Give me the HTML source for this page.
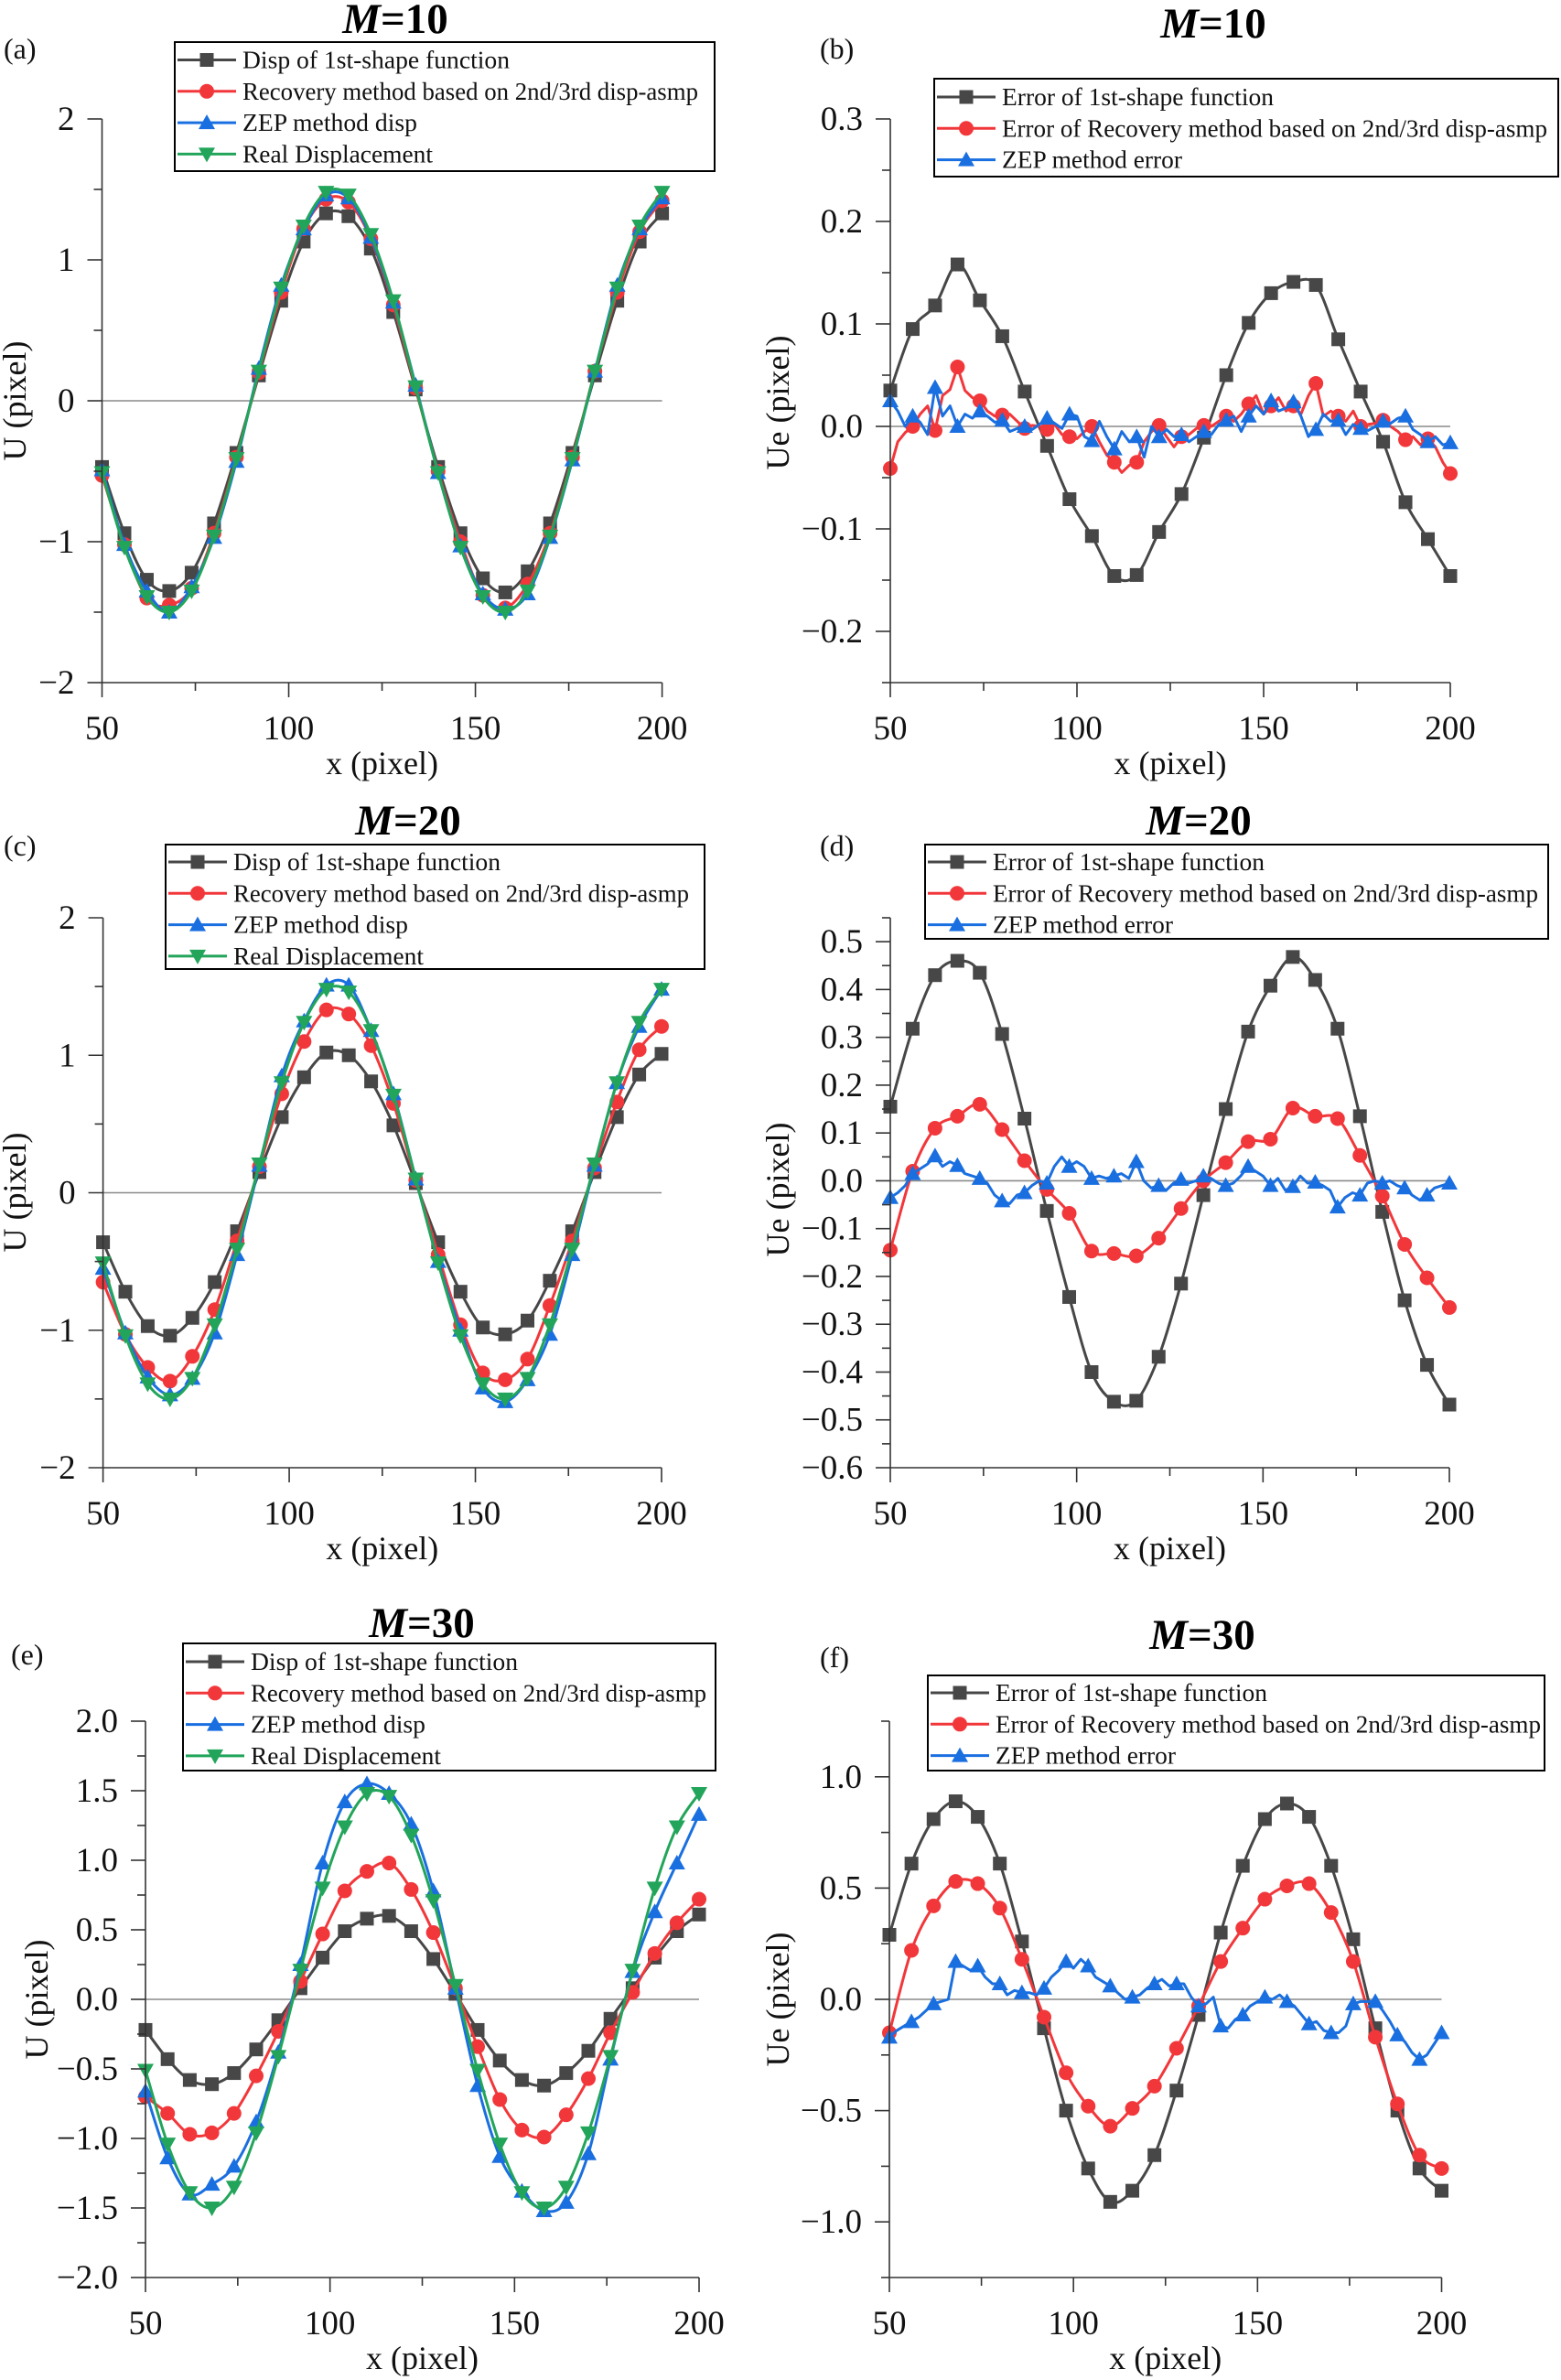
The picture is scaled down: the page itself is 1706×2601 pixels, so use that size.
<!DOCTYPE html>
<html><head><meta charset="utf-8">
<style>
html,body{margin:0;padding:0;background:#fff;}
svg{display:block;font-family:"Liberation Serif",serif;}
text{font-family:"Liberation Serif",serif;}
</style></head>
<body>
<svg id="fig" width="1706" height="2601" viewBox="0 0 1706 2601" xmlns="http://www.w3.org/2000/svg"></svg>
<script>
// ---------- DATA ----------
const X26 = [50,56,62,68,74,80,86,92,98,104,110,116,122,128,134,140,146,152,158,164,170,176,182,188,194,200];
const X76 = [50,52,54,56,58,60,62,64,66,68,70,72,74,76,78,80,82,84,86,88,90,92,94,96,98,100,102,104,106,108,110,112,114,116,118,120,122,124,126,128,130,132,134,136,138,140,142,144,146,148,150,152,154,156,158,160,162,164,166,168,170,172,174,176,178,180,182,184,186,188,190,192,194,196,198,200];

// (a) M=10
const aFirst = [-0.47,-0.94,-1.27,-1.35,-1.22,-0.87,-0.37,0.18,0.71,1.13,1.33,1.31,1.08,0.63,0.08,-0.47,-0.94,-1.26,-1.36,-1.21,-0.87,-0.37,0.18,0.71,1.13,1.33];
const aRecov = [-0.53,-1.02,-1.40,-1.45,-1.33,-0.94,-0.40,0.20,0.77,1.22,1.43,1.41,1.15,0.68,0.09,-0.50,-1.00,-1.38,-1.47,-1.30,-0.94,-0.40,0.21,0.77,1.20,1.42];
const aZep = [-0.49,-1.02,-1.35,-1.50,-1.32,-0.97,-0.43,0.23,0.82,1.22,1.46,1.44,1.16,0.70,0.11,-0.51,-1.03,-1.37,-1.48,-1.37,-0.97,-0.42,0.21,0.82,1.22,1.44];
const realDisp = [-0.51,-1.04,-1.39,-1.50,-1.35,-0.96,-0.41,0.21,0.80,1.24,1.48,1.46,1.18,0.71,0.10,-0.51,-1.04,-1.39,-1.50,-1.35,-0.96,-0.41,0.21,0.80,1.24,1.48];
// (c) M=20
const cFirst = [-0.36,-0.72,-0.97,-1.04,-0.91,-0.65,-0.28,0.15,0.55,0.84,1.02,1.00,0.81,0.49,0.07,-0.36,-0.72,-0.98,-1.03,-0.93,-0.64,-0.28,0.15,0.55,0.86,1.01];
const cRecov = [-0.65,-1.03,-1.27,-1.37,-1.19,-0.85,-0.35,0.19,0.72,1.10,1.33,1.30,1.07,0.65,0.09,-0.45,-0.96,-1.31,-1.36,-1.21,-0.82,-0.35,0.18,0.66,1.04,1.21];
const cZep = [-0.55,-1.02,-1.34,-1.47,-1.35,-1.02,-0.45,0.20,0.85,1.25,1.51,1.51,1.18,0.72,0.10,-0.50,-1.00,-1.42,-1.52,-1.36,-1.03,-0.45,0.20,0.80,1.21,1.48];
// (e) M=30
const eFirst = [-0.22,-0.43,-0.58,-0.61,-0.53,-0.36,-0.15,0.08,0.30,0.49,0.58,0.60,0.49,0.29,0.04,-0.22,-0.44,-0.58,-0.62,-0.53,-0.37,-0.14,0.08,0.30,0.49,0.61];
const eRecov = [-0.70,-0.82,-0.97,-0.96,-0.82,-0.55,-0.23,0.13,0.47,0.78,0.92,0.98,0.79,0.48,0.08,-0.34,-0.72,-0.94,-0.99,-0.83,-0.57,-0.24,0.05,0.33,0.55,0.72];
const eZep = [-0.66,-1.14,-1.40,-1.33,-1.20,-0.88,-0.38,0.25,0.98,1.42,1.55,1.48,1.26,0.78,0.08,-0.62,-1.13,-1.38,-1.52,-1.46,-1.11,-0.43,0.20,0.63,0.98,1.33];

// (b) M=10 errors
const bFirst = [0.035,0.095,0.118,0.158,0.123,0.088,0.034,-0.019,-0.071,-0.107,-0.146,-0.145,-0.103,-0.066,-0.011,0.050,0.101,0.130,0.141,0.138,0.085,0.034,-0.015,-0.074,-0.110,-0.146];
const bRecov = [-0.041,-0.015,-0.006,0.000,0.012,0.020,-0.004,0.030,0.036,0.058,0.035,0.028,0.025,0.015,0.010,0.011,0.012,0.005,-0.002,0.001,0.000,-0.003,0.002,-0.008,-0.010,-0.012,-0.005,0.000,-0.015,-0.028,-0.035,-0.045,-0.038,-0.035,-0.015,-0.005,0.001,-0.010,-0.020,-0.010,-0.008,-0.002,0.001,0.000,0.005,0.010,0.005,0.012,0.022,0.030,0.012,0.020,0.028,0.015,0.020,0.012,0.030,0.042,0.010,0.015,0.010,0.005,0.015,0.000,0.002,0.003,0.006,0.000,-0.005,-0.013,-0.010,-0.018,-0.012,-0.020,-0.035,-0.046];
const bZep = [0.025,0.015,0.000,0.010,0.004,-0.008,0.038,0.010,0.020,0.000,0.012,0.008,0.015,0.010,0.004,0.006,-0.005,-0.002,0.000,-0.003,0.002,0.008,0.003,-0.002,0.012,0.010,-0.010,-0.014,0.005,-0.010,-0.022,-0.005,-0.015,-0.010,-0.030,0.000,-0.010,-0.003,-0.010,-0.008,-0.015,-0.010,-0.005,-0.008,0.002,0.006,0.010,-0.005,0.010,0.020,0.012,0.025,0.015,0.018,0.024,0.010,-0.010,-0.003,0.012,0.005,0.006,-0.008,0.002,-0.002,-0.004,0.000,0.005,0.003,0.008,0.010,-0.003,-0.008,-0.015,-0.010,-0.018,-0.016];
// (d) M=20 errors
const dFirst = [0.155,0.318,0.430,0.460,0.435,0.307,0.130,-0.063,-0.243,-0.400,-0.462,-0.460,-0.368,-0.215,-0.030,0.150,0.312,0.408,0.468,0.420,0.318,0.135,-0.065,-0.250,-0.385,-0.468];
const dRecov = [-0.145,0.020,0.110,0.135,0.160,0.107,0.042,-0.018,-0.068,-0.147,-0.152,-0.157,-0.120,-0.058,0.000,0.038,0.082,0.087,0.152,0.135,0.130,0.053,-0.032,-0.133,-0.203,-0.265];
const dZep = [-0.035,-0.025,-0.010,0.015,0.025,0.035,0.052,0.030,0.040,0.032,0.015,0.010,0.005,-0.005,-0.030,-0.042,-0.048,-0.030,-0.025,-0.010,0.000,-0.005,0.030,0.050,0.030,0.040,0.030,0.005,0.010,0.005,0.010,0.015,0.005,0.040,0.000,-0.015,-0.010,-0.020,-0.005,0.003,-0.005,0.000,0.010,0.005,-0.005,-0.010,-0.005,0.010,0.030,0.020,0.010,-0.010,0.005,-0.020,-0.012,0.010,-0.005,-0.003,-0.010,-0.020,-0.055,-0.035,-0.025,-0.030,-0.005,0.000,-0.005,0.000,-0.010,-0.015,-0.030,-0.040,-0.030,-0.015,-0.010,-0.005];
// (f) M=30 errors
const fFirst = [0.29,0.61,0.81,0.89,0.82,0.61,0.26,-0.13,-0.50,-0.76,-0.91,-0.86,-0.70,-0.41,-0.07,0.30,0.60,0.81,0.88,0.82,0.60,0.27,-0.13,-0.50,-0.76,-0.86];
const fRecov = [-0.15,0.22,0.42,0.53,0.52,0.41,0.18,-0.08,-0.33,-0.48,-0.57,-0.49,-0.39,-0.22,-0.03,0.17,0.32,0.45,0.51,0.52,0.39,0.17,-0.17,-0.47,-0.70,-0.76];
const fZep = [-0.17,-0.14,-0.12,-0.10,-0.08,-0.05,-0.02,-0.01,0.00,0.17,0.15,0.13,0.15,0.10,0.07,0.07,0.02,0.04,0.03,0.03,0.02,0.05,0.10,0.13,0.17,0.14,0.18,0.15,0.10,0.08,0.06,0.03,0.00,0.01,0.02,0.05,0.07,0.09,0.06,0.07,0.07,0.01,-0.03,-0.02,0.01,-0.12,-0.13,-0.09,-0.07,-0.03,-0.01,0.01,0.00,0.02,-0.01,-0.03,-0.07,-0.11,-0.10,-0.14,-0.15,-0.15,-0.12,-0.02,-0.01,-0.01,-0.01,-0.05,-0.10,-0.16,-0.19,-0.24,-0.27,-0.25,-0.20,-0.15];

const dispLegend = ["Disp of 1st-shape function","Recovery method based on 2nd/3rd disp-asmp","ZEP method disp","Real Displacement"];
const errLegend = ["Error of 1st-shape function","Error of Recovery method based on 2nd/3rd disp-asmp","ZEP method error"];
const xTicks = [50,100,150,200];
const xMinor = [75,125,175];

// ---------- RENDER ----------
const NS="http://www.w3.org/2000/svg";
const svg=document.getElementById('fig');
const FF='"Liberation Serif", serif';
const C={k:"#474747",r:"#f2373b",b:"#1a6fe0",g:"#22a55a"};
function mk(tag,attrs,parent){const e=document.createElementNS(NS,tag);for(const k in attrs)e.setAttribute(k,attrs[k]);if(tag==='text')e.setAttribute('font-family',FF);(parent||svg).appendChild(e);return e;}
function fmt(v,d){const s=Math.abs(v).toFixed(d);return (v< -1e-9?"\u2212":"")+s;}
function smoothPath(pts){let d="M"+pts[0][0]+","+pts[0][1];for(let i=0;i<pts.length-1;i++){const p0=pts[i-1]||pts[i],p1=pts[i],p2=pts[i+1],p3=pts[i+2]||p2;const c1x=p1[0]+(p2[0]-p0[0])/6,c1y=p1[1]+(p2[1]-p0[1])/6,c2x=p2[0]-(p3[0]-p1[0])/6,c2y=p2[1]-(p3[1]-p1[1])/6;d+=` C${c1x},${c1y} ${c2x},${c2y} ${p2[0]},${p2[1]}`;}return d;}
function marker(g,type,x,y,col){
  let e;
  if(type==="sq"){e=mk('rect',{x:x-7.5,y:y-7.5,width:15,height:15,fill:col},g);}
  else if(type==="ci"){e=mk('circle',{cx:x,cy:y,r:8,fill:col},g);}
  else if(type==="up"){e=mk('polygon',{points:`${x},${y-9} ${x-9},${y+7} ${x+9},${y+7}`,fill:col},g);}
  else {e=mk('polygon',{points:`${x},${y+9} ${x-9},${y-7} ${x+9},${y-7}`,fill:col},g);}
  
  
}
function panel(p){
  const g=mk('g',{});
  
  
  const sx=v=>p.x0+(v-50)/150*(p.x1-p.x0);
  const sy=v=>p.yB-(v-p.ymin)/(p.ymax-p.ymin)*(p.yB-p.yT);
  const z=mk('line',{x1:p.x0,x2:p.x1,y1:sy(0),y2:sy(0),stroke:"#8a8a8a","stroke-width":1.6},g);
  
  p.series.forEach(s=>{
    const sg=mk('g',{},g);
    
    
    const pts=s.xs.map((x,i)=>[sx(x),sy(s.ys[i])]);
    const d=s.smooth?smoothPath(pts):"M"+pts.map(q=>q[0]+","+q[1]).join(" L");
    mk('path',{d:d,fill:"none",stroke:s.col,"stroke-width":3,"stroke-linejoin":"round"},sg);
    pts.forEach((q,i)=>{if(i%s.every===0)marker(sg,s.m,q[0],q[1],s.col);});
  });
  const ax=mk('g',{stroke:"#333","stroke-width":1.6},g);
  
  mk('line',{x1:p.x0,x2:p.x0,y1:p.yT,y2:p.yB},ax);
  mk('line',{x1:p.x0,x2:p.x1,y1:p.yB,y2:p.yB},ax);
  xTicks.forEach(v=>{mk('line',{x1:sx(v),x2:sx(v),y1:p.yB,y2:p.yB+16},ax);
    const t=mk('text',{x:sx(v),y:p.yB+62,"font-size":37,"text-anchor":"middle",fill:"#111",stroke:"none"},g);t.textContent=v;
    });
  xMinor.forEach(v=>mk('line',{x1:sx(v),x2:sx(v),y1:p.yB,y2:p.yB+9},ax));
  p.ticks.forEach(v=>{mk('line',{x1:p.x0-16,x2:p.x0,y1:sy(v),y2:sy(v)},ax);
    const t=mk('text',{x:p.x0-30,y:sy(v)+12,"font-size":37,"text-anchor":"end",fill:"#111",stroke:"none"},g);t.textContent=fmt(v,p.dec);
    });
  p.minor.forEach(v=>mk('line',{x1:p.x0-9,x2:p.x0,y1:sy(v),y2:sy(v)},ax));
  let t=mk('text',{x:(p.x0+p.x1)/2,y:p.yB+100,"font-size":36,"text-anchor":"middle",fill:"#111"},g);t.textContent="x (pixel)";
  
  t=mk('text',{x:0,y:0,"font-size":36,"text-anchor":"middle",fill:"#111",transform:`translate(${p.ytx},${p.yty}) rotate(-90)`},g);t.textContent=p.ytitle;
  
  t=mk('text',{x:p.tx,y:p.ty,"font-size":47,"font-weight":"bold","text-anchor":"middle",fill:"#000"},g);
  t.innerHTML=`<tspan font-style="italic">M</tspan>=${p.M}`;
  
  t=mk('text',{x:p.lx,y:p.ly,"font-size":32,fill:"#111"},g);t.textContent=p.label;
  
  const L=p.leg;
  const lg=mk('g',{},g);
  
  mk('rect',{x:L.x,y:L.y,width:L.w,height:L.h,fill:"#fff",stroke:"#000","stroke-width":2},lg);
  L.items.forEach((txt,i)=>{
    const s=p.series[i];const cy=L.y+L.first+i*34.3;
    const eg=mk('g',{},lg);
    
    mk('line',{x1:L.x+3,x2:L.x+67,y1:cy,y2:cy,stroke:s.col,"stroke-width":3},eg);
    marker(eg,s.m,L.x+35,cy,s.col);
    const tt=mk('text',{x:L.x+74,y:cy+9,"font-size":27.5,fill:"#111",textLength:L.tl[i],lengthAdjust:"spacingAndGlyphs"},eg);tt.textContent=txt;
  });
}
const tInt=[-2,-1,0,1,2], mInt=[-1.5,-0.5,0.5,1.5];
const dTL=[292,498,191,208], eTL=[297,596,197];
panel({name:"panel-a",x0:111.5,x1:723.6,yT:130,yB:746,ymin:-2,ymax:2,ticks:tInt,minor:mInt,dec:0,ytitle:"U (pixel)",ytx:28,yty:438,M:10,tx:432,ty:36,label:"(a)",lx:4,ly:64,
  leg:{x:191,y:46,w:590,h:141,first:19.5,items:dispLegend,tl:dTL},
  series:[{name:"series-first",xs:X26,ys:aFirst,col:C.k,m:"sq",smooth:true,every:1},{name:"series-recovery",xs:X26,ys:aRecov,col:C.r,m:"ci",smooth:true,every:1},{name:"series-zep",xs:X26,ys:aZep,col:C.b,m:"up",smooth:true,every:1},{name:"series-real",xs:X26,ys:realDisp,col:C.g,m:"dn",smooth:true,every:1}]});
panel({name:"panel-b",x0:973,x1:1585,yT:130,yB:746,ymin:-0.25,ymax:0.3,ticks:[-0.2,-0.1,0,0.1,0.2,0.3],minor:[-0.25,-0.15,-0.05,0.05,0.15,0.25],dec:1,ytitle:"Ue (pixel)",ytx:862,yty:440,M:10,tx:1326,ty:41,label:"(b)",lx:896,ly:64,
  leg:{x:1021,y:86,w:682,h:107,first:20,items:errLegend,tl:eTL},
  series:[{name:"series-first-error",xs:X26,ys:bFirst,col:C.k,m:"sq",smooth:true,every:1},{name:"series-recovery-error",xs:X76,ys:bRecov,col:C.r,m:"ci",smooth:false,every:3},{name:"series-zep-error",xs:X76,ys:bZep,col:C.b,m:"up",smooth:false,every:3}]});
panel({name:"panel-c",x0:112.6,x1:723,yT:1003,yB:1604,ymin:-2,ymax:2,ticks:tInt,minor:mInt,dec:0,ytitle:"U (pixel)",ytx:28,yty:1303,M:20,tx:446,ty:912,label:"(c)",lx:4,ly:935,
  leg:{x:181,y:923,w:589,h:136,first:19,items:dispLegend,tl:dTL},
  series:[{name:"series-first",xs:X26,ys:cFirst,col:C.k,m:"sq",smooth:true,every:1},{name:"series-recovery",xs:X26,ys:cRecov,col:C.r,m:"ci",smooth:true,every:1},{name:"series-zep",xs:X26,ys:cZep,col:C.b,m:"up",smooth:true,every:1},{name:"series-real",xs:X26,ys:realDisp,col:C.g,m:"dn",smooth:true,every:1}]});
panel({name:"panel-d",x0:973,x1:1584,yT:1003,yB:1604,ymin:-0.6,ymax:0.55,ticks:[-0.6,-0.5,-0.4,-0.3,-0.2,-0.1,0,0.1,0.2,0.3,0.4,0.5],minor:[-0.55,-0.45,-0.35,-0.25,-0.15,-0.05,0.05,0.15,0.25,0.35,0.45,0.55],dec:1,ytitle:"Ue (pixel)",ytx:862,yty:1300,M:20,tx:1310,ty:912,label:"(d)",lx:896,ly:935,
  leg:{x:1011,y:923,w:681,h:103,first:19,items:errLegend,tl:eTL},
  series:[{name:"series-first-error",xs:X26,ys:dFirst,col:C.k,m:"sq",smooth:true,every:1},{name:"series-recovery-error",xs:X26,ys:dRecov,col:C.r,m:"ci",smooth:true,every:1},{name:"series-zep-error",xs:X76,ys:dZep,col:C.b,m:"up",smooth:false,every:3}]});
panel({name:"panel-e",x0:159,x1:764,yT:1881,yB:2489,ymin:-2,ymax:2,ticks:[-2,-1.5,-1,-0.5,0,0.5,1,1.5,2],minor:[-1.75,-1.25,-0.75,-0.25,0.25,0.75,1.25,1.75],dec:1,ytitle:"U (pixel)",ytx:52,yty:2185,M:30,tx:461,ty:1789,label:"(e)",lx:12,ly:1819,
  leg:{x:200,y:1796,w:582,h:139,first:20,items:dispLegend,tl:dTL},
  series:[{name:"series-first",xs:X26,ys:eFirst,col:C.k,m:"sq",smooth:true,every:1},{name:"series-recovery",xs:X26,ys:eRecov,col:C.r,m:"ci",smooth:true,every:1},{name:"series-zep",xs:X26,ys:eZep,col:C.b,m:"up",smooth:true,every:1},{name:"series-real",xs:X26,ys:realDisp,col:C.g,m:"dn",smooth:true,every:1}]});
panel({name:"panel-f",x0:972,x1:1575.5,yT:1881,yB:2489,ymin:-1.25,ymax:1.25,ticks:[-1,-0.5,0,0.5,1],minor:[-1.25,-0.75,-0.25,0.25,0.75,1.25],dec:1,ytitle:"Ue (pixel)",ytx:862,yty:2185,M:30,tx:1314,ty:1802,label:"(f)",lx:896,ly:1822,
  leg:{x:1014,y:1831,w:674,h:104,first:19,items:errLegend,tl:eTL},
  series:[{name:"series-first-error",xs:X26,ys:fFirst,col:C.k,m:"sq",smooth:true,every:1},{name:"series-recovery-error",xs:X26,ys:fRecov,col:C.r,m:"ci",smooth:true,every:1},{name:"series-zep-error",xs:X76,ys:fZep,col:C.b,m:"up",smooth:false,every:3}]});
</script>
</body></html>
